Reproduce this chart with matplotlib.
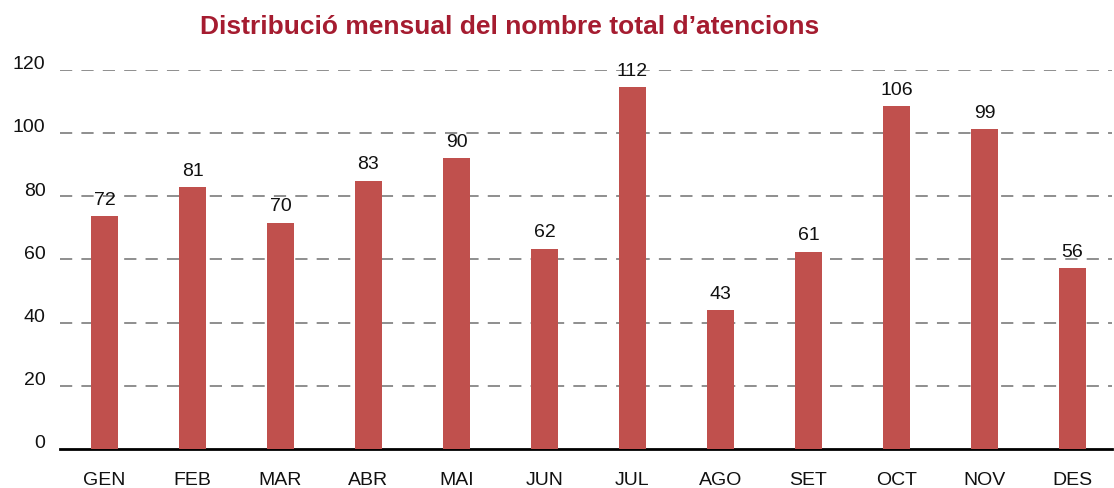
import matplotlib
matplotlib.use("Agg")
import matplotlib.pyplot as plt
import matplotlib.transforms as mtransforms

months = ["GEN", "FEB", "MAR", "ABR", "MAI", "JUN", "JUL", "AGO", "SET", "OCT", "NOV", "DES"]
values = [72, 81, 70, 83, 90, 62, 112, 43, 61, 106, 99, 56]
yticks = [0, 20, 40, 60, 80, 100, 120]
title = "Distribució mensual del nombre total d\u2019atencions"

plt.rcParams['font.family'] = ['Liberation Sans', 'DejaVu Sans']

fig = plt.figure(figsize=(11.14, 4.89), dpi=100)
ax = fig.add_axes([60/1114, 1-450/489, (1112-60)/1114, (450-70.7)/489])
# bars drawn on a twin scale (the original bars sit slightly above their gridline values)
ax2 = ax.twinx()

x = list(range(len(months)))
ax.set_xlim(-0.506, 11.45)
ax.set_ylim(0, 120)
ax2.set_ylim(0, 120/1.023)
ax2.set_xlim(-0.506, 11.45)

for t in yticks[1:]:
    ax.axhline(t, color='#707070', lw=1.1, dashes=(8, 6), zorder=1)

ax2.bar(x, values, width=0.314, color='#C0504D', zorder=2)
for xi, v in zip(x, values):
    ax2.annotate(str(v), (xi, v), xytext=(0, 6), textcoords='offset points',
                 ha='center', va='bottom', fontsize=14, color='#111111')

for a in (ax, ax2):
    for s in a.spines.values():
        s.set_visible(False)
ax.spines['bottom'].set_visible(True)
ax.spines['bottom'].set_linewidth(2)
ax.spines['bottom'].set_color('#000000')
ax.spines['bottom'].set_zorder(5)

ax.set_xticks(x)
ax.set_xticklabels(months, fontsize=14, color='#111111')
ax.set_yticks(yticks)
ax.set_yticklabels([str(t) for t in yticks], fontsize=14, color='#111111')
ax.tick_params(axis='both', length=0)
ax.tick_params(axis='x', pad=15.5)
ax.tick_params(axis='y', pad=10.5)
ax2.set_yticks([])
off = mtransforms.ScaledTranslation(0, 8/100, fig.dpi_scale_trans)
for lab in ax.get_yticklabels():
    lab.set_transform(lab.get_transform() + off)

fig.text(510/1114, 1-34/489, title, ha='center', va='baseline', fontsize=19,
         fontweight='bold', color='#A51C30')

fig.savefig('out.png', dpi=100)
